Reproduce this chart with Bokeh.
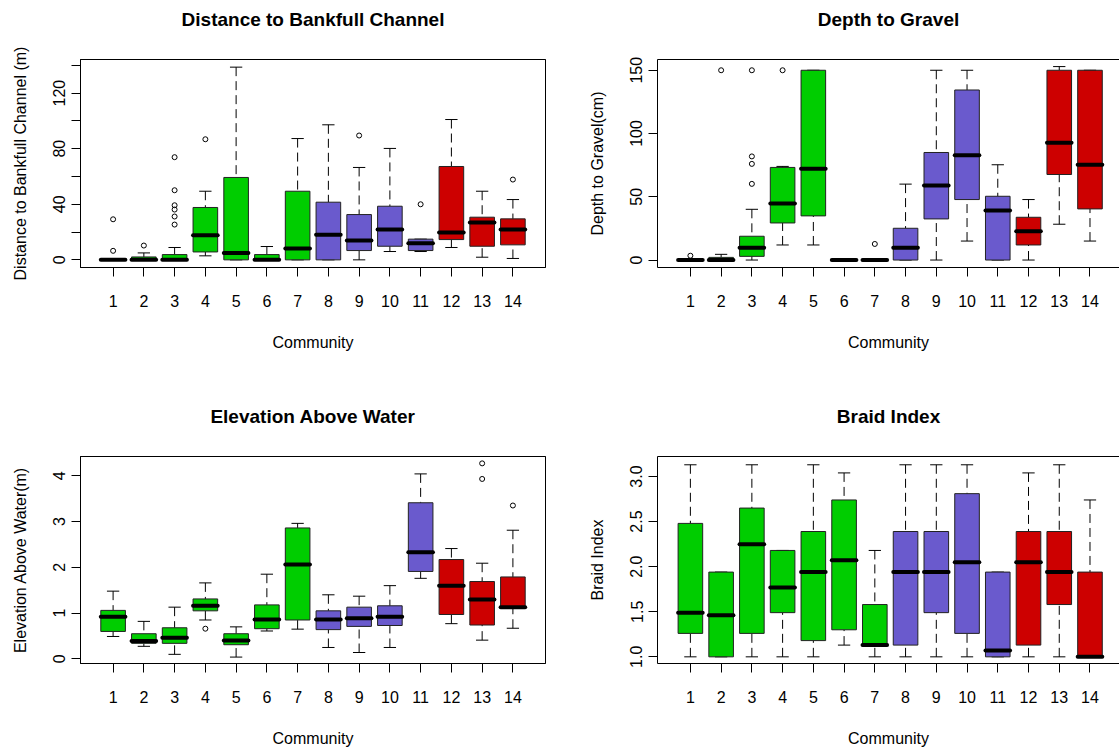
from bokeh.plotting import figure
from bokeh.layouts import gridplot
from bokeh.models import ColumnDataSource, FixedTicker, LinearAxis, Range1d
from bokeh.core.properties import value
from bokeh.embed import file_html
from bokeh.resources import INLINE

FONT = "Liberation Sans"

communities = list(range(1, 15))
GREEN, PURPLE, RED = "#00CD00", "#6A5ACD", "#CD0000"
community_colors = [GREEN] * 7 + [PURPLE] * 4 + [RED] * 3

# Distance to bankfull channel (m): whisker ends, quartiles, medians, outliers
dist_low = [0, 0, 0, 2.9, 0, 0, 0, 0, 0, 6.0, 6.0, 8.9, 1.9, 1.0]
dist_q1 = [0, 0, 0, 5.7, 0, 0, 0, 0, 6.7, 9.8, 6.7, 14.6, 9.8, 10.8]
dist_med = [0, 0, 0, 17.7, 5.0, 0, 8.1, 18.0, 13.9, 21.8, 12.0, 19.7, 26.9, 21.8]
dist_q3 = [0, 2.1, 3.8, 37.7, 59.3, 3.8, 49.4, 41.5, 32.6, 38.6, 14.9, 67.2, 30.7, 29.5]
dist_high = [0, 5.0, 8.9, 49.4, 138.7, 9.6, 87.3, 97.2, 66.5, 80.2, 14.9, 101.0, 49.4, 43.4]
dist_out_x = [1, 1, 2, 3, 3, 3, 3, 3, 3, 4, 9, 11, 14]
dist_out_y = [6.5, 29.2, 10.3, 73.9, 50.1, 39.3, 36.2, 31.2, 25.4, 86.8, 89.5, 40.0, 57.8]
dist_ticks = [0, 20, 40, 60, 80, 100, 120, 140]
dist_tick_labels = ["0", "", "40", "", "80", "", "120", ""]

# Depth to gravel (cm)
depth_low = [0, 0, 0, 11.9, 11.9, 0, 0, 0, 0, 15.0, 0, 0, 28.3, 15.0]
depth_q1 = [0, 0, 2.9, 29.3, 34.9, 0, 0, 0, 32.5, 47.8, 0, 11.9, 67.6, 40.4]
depth_med = [0, 0, 9.8, 44.6, 72.1, 0, 0, 9.8, 58.9, 82.9, 39.1, 22.7, 92.7, 75.3]
depth_q3 = [0, 2.1, 18.8, 73.2, 150, 0, 0, 25.1, 85.0, 134.4, 50.4, 33.8, 150, 150]
depth_high = [0, 4.5, 40.1, 74.0, 150, 0, 0, 60.0, 150, 150, 75.3, 47.8, 152.9, 150]
depth_out_x = [1, 2, 3, 3, 3, 3, 4, 7]
depth_out_y = [3.4, 150, 150, 81.9, 76.0, 60.2, 150, 12.7]
depth_ticks = [0, 50, 100, 150]
depth_tick_labels = ["0", "50", "100", "150"]

# Elevation above water (m)
elev_low = [0.49, 0.275, 0.10, 0.85, 0.04, 0.61, 0.65, 0.25, 0.14, 0.25, 1.76, 0.77, 0.41, 0.67]
elev_q1 = [0.60, 0.34, 0.34, 1.05, 0.31, 0.66, 0.85, 0.64, 0.71, 0.73, 1.91, 0.97, 0.74, 1.11]
elev_med = [0.92, 0.39, 0.46, 1.16, 0.40, 0.86, 2.06, 0.86, 0.89, 0.92, 2.33, 1.60, 1.30, 1.13]
elev_q3 = [1.06, 0.55, 0.68, 1.31, 0.55, 1.18, 2.86, 1.05, 1.13, 1.16, 3.41, 2.17, 1.69, 1.79]
elev_high = [1.48, 0.82, 1.13, 1.66, 0.70, 1.85, 2.96, 1.40, 1.37, 1.60, 4.04, 2.41, 2.09, 2.81]
elev_out_x = [4, 13, 13, 14]
elev_out_y = [0.66, 4.27, 3.93, 3.35]
elev_ticks = [0, 1, 2, 3, 4]
elev_tick_labels = ["0", "1", "2", "3", "4"]

# Braid index
braid_low = [1.0, 1.0, 1.0, 1.0, 1.0, 1.13, 1.0, 1.0, 1.0, 1.0, 1.0, 1.0, 1.0, 1.0]
braid_q1 = [1.26, 1.0, 1.26, 1.49, 1.18, 1.30, 1.12, 1.13, 1.49, 1.26, 1.0, 1.13, 1.58, 1.0]
braid_med = [1.49, 1.46, 2.25, 1.77, 1.94, 2.07, 1.13, 1.94, 1.94, 2.05, 1.07, 2.05, 1.94, 1.0]
braid_q3 = [2.48, 1.94, 2.65, 2.18, 2.39, 2.74, 1.58, 2.39, 2.39, 2.81, 1.94, 2.39, 2.39, 1.94]
braid_high = [3.13, 1.94, 3.13, 2.18, 3.13, 3.04, 2.18, 3.13, 3.13, 3.13, 1.94, 3.04, 3.13, 2.74]
braid_out_x = []
braid_out_y = []
braid_ticks = [1.0, 1.5, 2.0, 2.5, 3.0]
braid_tick_labels = ["1.0", "1.5", "2.0", "2.5", "3.0"]

BOX_W = 0.8
CAP_W = 0.4
TITLE_H = 40


def title_strip(text, width, left_border, right_border, text_y):
    """Thin strip carrying a panel's bold main title."""
    t = figure(width=width, height=TITLE_H, output_backend="svg",
               toolbar_location=None, x_axis_type=None, y_axis_type=None,
               x_range=Range1d(0, 1), y_range=Range1d(0, 1),
               min_border_left=left_border, min_border_right=right_border,
               min_border_top=0, min_border_bottom=0,
               background_fill_color="white", border_fill_color="white")
    t.grid.visible = False
    t.outline_line_color = None
    t.text(x=[0.5], y=[text_y], text=[text], text_align="center",
           text_baseline="middle", text_font=value(FONT),
           text_font_size="19px", text_font_style="bold", text_color="black")
    return t


def boxplot_panel(ylabel, low, q1, med, q3, high, out_x, out_y,
                  ticks, tick_labels, y_range, x_range, width, height,
                  left_border, right_border, top_border, bottom_border, cropped):
    p = figure(width=width, height=height, output_backend="svg",
               toolbar_location=None,
               x_range=Range1d(*x_range), y_range=Range1d(*y_range),
               min_border_left=left_border, min_border_right=right_border,
               min_border_top=top_border, min_border_bottom=bottom_border,
               background_fill_color="white", border_fill_color="white")
    p.grid.visible = False
    # the right-hand column runs off the page edge, so it has no right border
    p.outline_line_color = None if cropped else "black"

    src = ColumnDataSource(dict(
        x=communities, low=low, q1=q1, med=med, q3=q3, high=high,
        color=community_colors,
        cap_l=[c - CAP_W / 2 for c in communities],
        cap_r=[c + CAP_W / 2 for c in communities],
        med_l=[c - BOX_W / 2 for c in communities],
        med_r=[c + BOX_W / 2 for c in communities],
    ))

    # dashed whiskers, drawn from the whisker end towards the box
    p.segment(x0="x", y0="high", x1="x", y1="q3", source=src,
              line_color="black", line_width=1, line_dash="9 5")
    p.segment(x0="x", y0="low", x1="x", y1="q1", source=src,
              line_color="black", line_width=1, line_dash="9 5")
    # staples
    p.segment(x0="cap_l", y0="high", x1="cap_r", y1="high", source=src,
              line_color="black", line_width=1)
    p.segment(x0="cap_l", y0="low", x1="cap_r", y1="low", source=src,
              line_color="black", line_width=1)
    # boxes
    p.vbar(x="x", width=BOX_W, bottom="q1", top="q3", source=src,
           fill_color="color", line_color="#222222", line_width=1)
    # medians
    p.segment(x0="med_l", y0="med", x1="med_r", y1="med", source=src,
              line_color="black", line_width=4, line_cap="round")
    # outliers
    if out_x:
        p.scatter(out_x, out_y, marker="circle", size=5, fill_color=None,
                  line_color="black", line_width=1)

    xax = p.below[0]
    yax = p.left[0]
    xax.ticker = FixedTicker(ticks=communities)
    xax.axis_label = "Community"
    yax.ticker = FixedTicker(ticks=ticks)
    yax.major_label_overrides = {t: lab for t, lab in zip(ticks, tick_labels)}
    yax.axis_label = ylabel
    yax.major_label_orientation = "vertical"

    for ax in (xax, yax):
        ax.axis_line_color = "black"
        ax.major_tick_line_color = "black"
        ax.major_tick_out = 9
        ax.major_tick_in = 0
        ax.minor_tick_out = 0
        ax.minor_tick_in = 0
        ax.major_label_text_font = FONT
        ax.major_label_text_font_size = "16px"
        ax.major_label_text_color = "black"
        ax.axis_label_text_font = FONT
        ax.axis_label_text_font_size = "16px"
        ax.axis_label_text_font_style = "normal"
        ax.axis_label_text_color = "black"
    xax.major_label_standoff = 18
    xax.axis_label_standoff = 24
    yax.major_label_standoff = 6
    yax.axis_label_standoff = 22

    # plain top edge line (no ticks, no labels)
    top_edge = LinearAxis(ticker=FixedTicker(ticks=[]), axis_line_color="black",
                          major_tick_out=0, major_tick_in=0,
                          minor_tick_out=0, minor_tick_in=0,
                          major_label_standoff=0, axis_label_standoff=0,
                          major_label_text_font_size="0px")
    p.add_layout(top_edge, "above")
    return p


LEFT_X = (-0.06, 15.06)
RIGHT_X = (-0.07, 14.96)

t1 = title_strip("Distance to Bankfull Channel", 577, 80, 32, 0.525)
t2 = title_strip("Depth to Gravel", 542, 80, 0, 0.525)
t3 = title_strip("Elevation Above Water", 577, 80, 32, 0.5)
t4 = title_strip("Braid Index", 542, 80, 0, 0.5)

p1 = boxplot_panel("Distance to Bankfull Channel (m)",
                   dist_low, dist_q1, dist_med, dist_q3, dist_high, dist_out_x, dist_out_y,
                   dist_ticks, dist_tick_labels, (-5.5, 144.2), LEFT_X,
                   577, 396 - TITLE_H, 80, 32, 19, 129, False)
p2 = boxplot_panel("Depth to Gravel(cm)",
                   depth_low, depth_q1, depth_med, depth_q3, depth_high, depth_out_x, depth_out_y,
                   depth_ticks, depth_tick_labels, (-5.9, 158.5), RIGHT_X,
                   542, 396 - TITLE_H, 80, 0, 19, 129, True)
p3 = boxplot_panel("Elevation Above Water(m)",
                   elev_low, elev_q1, elev_med, elev_q3, elev_high, elev_out_x, elev_out_y,
                   elev_ticks, elev_tick_labels, (-0.10, 4.42), LEFT_X,
                   577, 355 - TITLE_H, 80, 32, 20, 88, False)
p4 = boxplot_panel("Braid Index",
                   braid_low, braid_q1, braid_med, braid_q3, braid_high, braid_out_x, braid_out_y,
                   braid_ticks, braid_tick_labels, (0.926, 3.222), RIGHT_X,
                   542, 355 - TITLE_H, 80, 0, 20, 88, True)

grid = gridplot([[t1, t2], [p1, p2], [t3, t4], [p3, p4]], toolbar_location=None)

with open("out.html", "w") as f:
    f.write(file_html(grid, INLINE))
